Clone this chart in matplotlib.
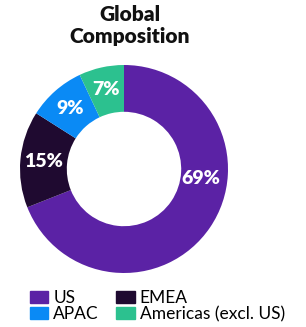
import matplotlib.pyplot as plt
from matplotlib.patches import Patch

# Global composition data
regions = ["US", "EMEA", "APAC", "Americas (excl. US)"]
shares = [69, 15, 9, 7]
colors = ["#5B22A5", "#1F0A30", "#0A8AF5", "#2CC18F"]

plt.rcParams['font.family'] = ['Lato', 'DejaVu Sans']

W, H = 306, 327
fig = plt.figure(figsize=(W / 100, H / 100), dpi=100)

# donut: center ~ (124, 169) px, outer radius ~104 px
cx, cy, r = 124, 169, 104
ax = fig.add_axes([(cx - r) / W, (H - cy - r) / H, 2 * r / W, 2 * r / H])

wedges, texts, autotexts = ax.pie(
    shares, colors=colors, startangle=90, counterclock=False,
    radius=1, wedgeprops=dict(width=0.45, linewidth=0),
    autopct=lambda p: "%d%%" % round(p), pctdistance=0.78,
    textprops=dict(color="white", fontsize=14, fontweight="heavy"))
ax.set_xlim(-1, 1)
ax.set_ylim(-1, 1)
ax.set_aspect("equal")

# US label sits on the right side of the ring
autotexts[0].set_position((0.74, -0.09))

fig.text(130 / W, 1 - 5 / H, "Global\nComposition", ha="center", va="top",
         fontsize=15, fontweight="heavy", color="#111111", linespacing=1.2)

handles = [Patch(color=c, label=l) for c, l in zip(colors, regions)]
order = [0, 2, 1, 3]
fig.legend([handles[i] for i in order], [regions[i] for i in order],
           ncol=2, loc="center left", bbox_to_anchor=(30 / W, 1 - 306 / H),
           frameon=False, fontsize=12.5, handlelength=1.05, handleheight=0.7,
           handletextpad=0.3, columnspacing=1.0, labelspacing=0.0,
           borderpad=0, borderaxespad=0)

fig.savefig("out.png", dpi=100)
